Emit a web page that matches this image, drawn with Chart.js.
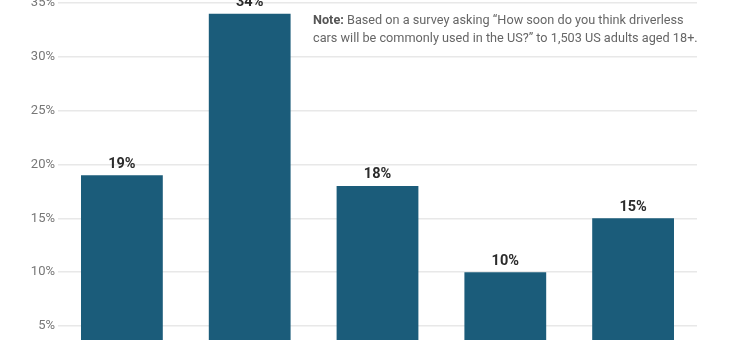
<!DOCTYPE html>
<html lang="en">
<head>
    <meta charset="UTF-8">
    <title>Driverless cars survey</title>
    <script src="https://cdn.jsdelivr.net/npm/chart.js"></script>
    <style>
        body {
            margin: 0;
            padding: 0;
            background: #fff;
        }
        .wrap {
            width: 730px;
            height: 340px;
        }
    </style>
</head>
<body>
    <div class="wrap">
        <canvas id="chart" width="730" height="340"></canvas>
    </div>

    <script>
        // answers to "How soon do you think driverless cars will be commonly used in the US?"
        const categories = ['Within 5 years', '5-10 years', '10-20 years', 'More than 20 years', 'Never'];
        const shares = [19, 34, 18, 10, 15];
        const yTicks = [5, 10, 15, 20, 25, 30, 35];

        const noteBold = 'Note:';
        const noteLines = [
            ' Based on a survey asking \u201cHow soon do you think driverless',
            'cars will be commonly used in the US?\u201d to 1,503 US adults aged 18+.'
        ];

        // value labels above each bar
        const barLabels = {
            id: 'barLabels',
            afterDatasetsDraw(chart) {
                const ctx = chart.ctx;
                const meta = chart.getDatasetMeta(0);
                ctx.save();
                ctx.font = 'bold 14.5px Roboto';
                ctx.fillStyle = '#2b2b2b';
                ctx.textAlign = 'center';
                ctx.textBaseline = 'bottom';
                meta.data.forEach((bar, i) => {
                    ctx.fillText(shares[i] + '%', bar.x, bar.y - 4);
                });
                ctx.restore();
            }
        };

        // note text in the upper right
        const notePlugin = {
            id: 'note',
            afterDraw(chart) {
                const ctx = chart.ctx;
                const x = 313;
                ctx.save();
                ctx.textBaseline = 'alphabetic';
                ctx.font = 'bold 12.7px Roboto';
                ctx.fillStyle = '#555';
                ctx.fillText(noteBold, x, 24);
                const w = ctx.measureText(noteBold).width;
                ctx.font = '12.7px Roboto';
                ctx.fillStyle = '#666';
                ctx.fillText(noteLines[0], x + w, 24);
                ctx.fillText(noteLines[1], x, 41.5);
                ctx.restore();
            }
        };

        new Chart(document.getElementById('chart'), {
            type: 'bar',
            data: {
                labels: categories,
                datasets: [{
                    data: shares,
                    backgroundColor: '#1b5c7a',
                    barPercentage: 0.64,
                    categoryPercentage: 1.0
                }]
            },
            options: {
                responsive: false,
                animation: false,
                layout: { padding: { left: 0, right: 33, top: 0, bottom: 0 } },
                plugins: {
                    legend: { display: false },
                    tooltip: { enabled: false }
                },
                scales: {
                    x: { display: false },
                    y: {
                        min: 3.7,
                        max: 35.28,
                        border: { display: false },
                        grid: {
                            color: '#e8e8e8',
                            lineWidth: 1.5,
                            drawTicks: false
                        },
                        afterBuildTicks(scale) {
                            scale.ticks = yTicks.map(v => ({ value: v }));
                        },
                        afterFit(scale) {
                            scale.width = 58;
                            scale.paddingTop = 0;
                            scale.paddingBottom = 0;
                        },
                        ticks: {
                            padding: 3,
                            color: '#777',
                            font: { family: 'Roboto', size: 13 },
                            callback: v => v + '%'
                        }
                    }
                }
            },
            plugins: [barLabels, notePlugin]
        });
    </script>
</body>
</html>
